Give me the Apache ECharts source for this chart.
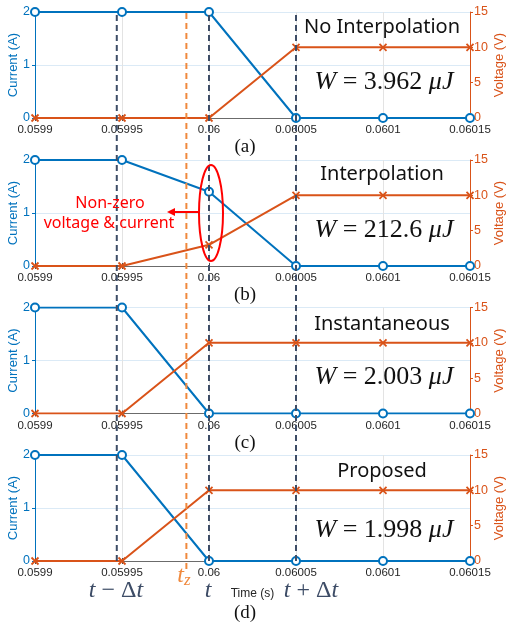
<!DOCTYPE html>
<html>
<head>
<meta charset="utf-8">
<script src="https://cdn.jsdelivr.net/npm/echarts@6/dist/echarts.min.js"></script>
<style>
  html, body { margin: 0; padding: 0; background: #fff; }
  #chart { width: 506px; height: 629px; }
</style>
</head>
<body>
<div id="chart"></div>
<script>
// Switching transient: current and voltage samples around the turn-off instant
const times = [0.0599, 0.05995, 0.06, 0.06005, 0.0601, 0.06015];
const timeTickLabels = ['0.0599', '0.05995', '0.06', '0.06005', '0.0601', '0.06015'];

const currentNoInterp = [2, 2, 2, 0, 0, 0];
const voltageNoInterp = [0, 0, 0, 10, 10, 10];
const currentInterp = [2, 2, 1.4, 0, 0, 0];
const voltageInterp = [0, 0, 3, 10, 10, 10];
const currentInst = [2, 2, 0, 0, 0, 0];
const voltageInst = [0, 0, 10, 10, 10, 10];
const currentProp = [2, 2, 0, 0, 0, 0];
const voltageProp = [0, 0, 10, 10, 10, 10];

const panelTitles = ['No Interpolation', 'Interpolation', 'Instantaneous', 'Proposed'];
const panelEnergy = ['3.962', '212.6', '2.003', '1.998'];
const panelTags = ['(a)', '(b)', '(c)', '(d)'];

// step markers: t - Δt, t, t + Δt, and the zero-crossing instant t_z
const stepTimes = [0.059947, 0.06, 0.06005];
const zeroCrossTime = [0.059987];

const currents = [currentNoInterp, currentInterp, currentInst, currentProp];
const voltages = [voltageNoInterp, voltageInterp, voltageInst, voltageProp];

const BLUE = '#0072BD';
const ORANGE = '#D95319';
const SLATE = '#3D4C66';
const LIGHT_ORANGE = '#F0893D';
const TICK_FONT = 'Liberation Sans, Arial, sans-serif';

const panelTop = [12, 160, 307.5, 455];
const panelHeight = 106;
const LEFT = 35, RIGHT = 36;

const grid = [], xAxis = [], yAxis = [], series = [];

function tickLabel(v) {
  const i = Math.round((v - times[0]) / 0.00005);
  return timeTickLabels[i] !== undefined ? timeTickLabels[i] : '';
}

for (let p = 0; p < 4; p++) {
  grid.push({ left: LEFT, right: RIGHT, top: panelTop[p], height: panelHeight, outerBoundsMode: 'none', containLabel: false });
  // bottom time axis
  xAxis.push({
    type: 'value', gridIndex: p, position: 'bottom',
    min: 0.0599, max: 0.06015, interval: 0.00005,
    axisLine: { show: true, lineStyle: { color: '#4d4d4d', width: 1 } },
    axisTick: { show: true, inside: true, length: 3, lineStyle: { color: '#4d4d4d' } },
    axisLabel: { formatter: tickLabel, color: '#262626', fontSize: 11.5, fontFamily: TICK_FONT, margin: 6, showMinLabel: true, showMaxLabel: true, hideOverlap: false },
    splitLine: { show: true, lineStyle: { color: '#e3e3e3', width: 1 } },
    name: p === 3 ? 'Time (s)' : '',
    nameLocation: 'middle', nameGap: 27, nameMoveOverlap: false,
    nameTextStyle: { color: '#262626', fontSize: 12, fontFamily: TICK_FONT }
  });
  // top box edge
  xAxis.push({
    type: 'value', gridIndex: p, position: 'top',
    min: 0.0599, max: 0.06015, interval: 0.00005,
    axisLine: { show: true, lineStyle: { color: '#6b6b6b', width: 1 } },
    axisTick: { show: true, inside: true, length: 3, lineStyle: { color: '#4d4d4d' } },
    axisLabel: { show: false },
    splitLine: { show: false }
  });
  yAxis.push({
    type: 'value', gridIndex: p, position: 'left',
    min: 0, max: 2, interval: 1,
    axisLine: { show: true, lineStyle: { color: BLUE, width: 1 } },
    axisTick: { show: true, inside: false, length: 3, lineStyle: { color: BLUE } },
    axisLabel: { color: BLUE, fontSize: 12.5, fontFamily: TICK_FONT, margin: 5 },
    splitLine: { show: true, lineStyle: { color: '#dbeaf6', width: 1 } },
    name: 'Current (A)', nameLocation: 'middle', nameGap: 15, nameRotate: 90, nameMoveOverlap: false,
    nameTextStyle: { color: BLUE, fontSize: 13, fontFamily: TICK_FONT }
  });
  yAxis.push({
    type: 'value', gridIndex: p, position: 'right',
    min: 0, max: 15, interval: 5,
    axisLine: { show: true, lineStyle: { color: ORANGE, width: 1 } },
    axisTick: { show: true, inside: false, length: 3, lineStyle: { color: ORANGE } },
    axisLabel: { color: ORANGE, fontSize: 12.5, fontFamily: TICK_FONT, margin: 4 },
    splitLine: { show: false },
    name: 'Voltage (V)', nameLocation: 'middle', nameGap: 23, nameRotate: 90, nameMoveOverlap: false,
    nameTextStyle: { color: ORANGE, fontSize: 13, fontFamily: TICK_FONT }
  });
  series.push({
    type: 'line', xAxisIndex: 2 * p, yAxisIndex: 2 * p,
    data: times.map((t, i) => [t, currents[p][i]]),
    lineStyle: { color: BLUE, width: 2 },
    symbol: 'emptyCircle', symbolSize: 8,
    itemStyle: { color: BLUE, borderColor: BLUE, borderWidth: 1.6 },
    animation: false, z: 3
  });
  series.push({
    type: 'line', xAxisIndex: 2 * p, yAxisIndex: 2 * p + 1,
    data: times.map((t, i) => [t, voltages[p][i]]),
    lineStyle: { color: ORANGE, width: 2 },
    symbol: 'path://M0,0L10,10M10,0L0,10', symbolSize: 7,
    itemStyle: { color: ORANGE, borderColor: ORANGE, borderWidth: 1.8 },
    animation: false, z: 3
  });
}

// overlay grids carrying the dashed time markers across all panels
grid.push({ left: LEFT, right: RIGHT, top: 12, bottom: 629 - 561, outerBoundsMode: 'none', containLabel: false });
grid.push({ left: LEFT, right: RIGHT, top: 12, bottom: 629 - 569, outerBoundsMode: 'none', containLabel: false });
for (let g = 4; g < 6; g++) {
  xAxis.push({ type: 'value', gridIndex: g, min: 0.0599, max: 0.06015, show: false });
  yAxis.push({ type: 'value', gridIndex: g, min: 0, max: 1, show: false });
}
stepTimes.forEach(t => {
  series.push({
    type: 'line', xAxisIndex: 8, yAxisIndex: 8, data: [[t, 0], [t, 1]], z: 10, animation: false,
    symbol: 'none', silent: true,
    lineStyle: { color: SLATE, type: [6, 4], width: 2 }
  });
});
zeroCrossTime.forEach(t => {
  series.push({
    type: 'line', xAxisIndex: 9, yAxisIndex: 9, data: [[t, 0], [t, 1]], z: 10, animation: false,
    symbol: 'none', silent: true,
    lineStyle: { color: LIGHT_ORANGE, type: [6, 4], width: 2 }
  });
});

const MATH = 'Liberation Serif, Times New Roman, serif';
const graphic = [];
const titleY = [27, 174, 324, 471];
const energyY = [82, 230, 377, 530];
const tagY = [147, 295, 443, 613];
for (let p = 0; p < 4; p++) {
  graphic.push({
    type: 'text', x: 382, y: titleY[p], z: 20,
    style: { text: panelTitles[p], fill: '#111', font: '20px "Noto Sans", sans-serif', align: 'center', verticalAlign: 'middle' }
  });
  graphic.push({
    type: 'text', x: 384, y: energyY[p], z: 20,
    style: {
      text: '{i|W} = ' + panelEnergy[p] + ' {i|μJ}',
      fill: '#111', font: '26px ' + MATH, align: 'center', verticalAlign: 'middle',
      rich: { i: { fontStyle: 'italic', fontSize: 26, fontFamily: MATH, fill: '#111' } }
    }
  });
  graphic.push({
    type: 'text', x: 245, y: tagY[p], z: 20,
    style: { text: panelTags[p], fill: '#111', font: '19px ' + MATH, align: 'center', verticalAlign: 'middle' }
  });
}
// labels under the marker lines
graphic.push({
  type: 'text', x: 116, y: 591, z: 20,
  style: { text: '{i|t} − Δ{i|t}', fill: SLATE, font: '24px ' + MATH, align: 'center', verticalAlign: 'middle',
    rich: { i: { fontStyle: 'italic', fontSize: 24, fontFamily: MATH, fill: SLATE } } }
});
graphic.push({
  type: 'text', x: 208, y: 591, z: 20,
  style: { text: 't', fill: SLATE, font: 'italic 24px ' + MATH, align: 'center', verticalAlign: 'middle' }
});
graphic.push({
  type: 'text', x: 311, y: 591, z: 20,
  style: { text: '{i|t} + Δ{i|t}', fill: SLATE, font: '24px ' + MATH, align: 'center', verticalAlign: 'middle',
    rich: { i: { fontStyle: 'italic', fontSize: 24, fontFamily: MATH, fill: SLATE } } }
});
graphic.push({
  type: 'text', x: 184, y: 576, z: 20,
  style: { text: '{i|t}{s|z}', fill: LIGHT_ORANGE, font: 'italic 24px ' + MATH, align: 'center', verticalAlign: 'middle',
    rich: {
      i: { fontStyle: 'italic', fontSize: 24, fontFamily: MATH, fill: LIGHT_ORANGE },
      s: { fontStyle: 'italic', fontSize: 17, fontFamily: MATH, fill: LIGHT_ORANGE, padding: [10, 0, 0, 0] }
    } }
});
// note in panel (b)
graphic.push({
  type: 'text', x: 110, y: 203, z: 20,
  style: { text: 'Non-zero', fill: '#FF0000', font: '16px "Noto Sans", sans-serif', align: 'center', verticalAlign: 'middle' }
});
graphic.push({
  type: 'text', x: 109, y: 223, z: 20,
  style: { text: 'voltage & current', fill: '#FF0000', font: '16px "Noto Sans", sans-serif', align: 'center', verticalAlign: 'middle' }
});

const chart = echarts.init(document.getElementById('chart'), null, { renderer: 'canvas' });
chart.setOption({ animation: false, backgroundColor: '#fff', grid, xAxis, yAxis, series, graphic });

// ellipse and arrow marking the interpolated sample at t
const c = chart.convertToPixel({ xAxisIndex: 2, yAxisIndex: 2 }, [0.06, 1.0]);
const cx = c[0] + 2, cy = c[1];
const arrowTip = cx - 44;
graphic.push({
  type: 'ellipse', z: 21,
  shape: { cx: cx, cy: cy, rx: 12, ry: 48 },
  style: { fill: 'none', stroke: '#FF0000', lineWidth: 2 }
});
graphic.push({
  type: 'line', z: 21,
  shape: { x1: cx - 13, y1: cy - 1, x2: arrowTip + 6, y2: cy - 1 },
  style: { stroke: '#FF0000', lineWidth: 2 }
});
graphic.push({
  type: 'polygon', z: 21,
  shape: { points: [[arrowTip, cy - 1], [arrowTip + 8, cy - 5], [arrowTip + 8, cy + 3]] },
  style: { fill: '#FF0000' }
});
chart.setOption({ graphic }, { replaceMerge: ['graphic'] });
</script>
</body>
</html>
